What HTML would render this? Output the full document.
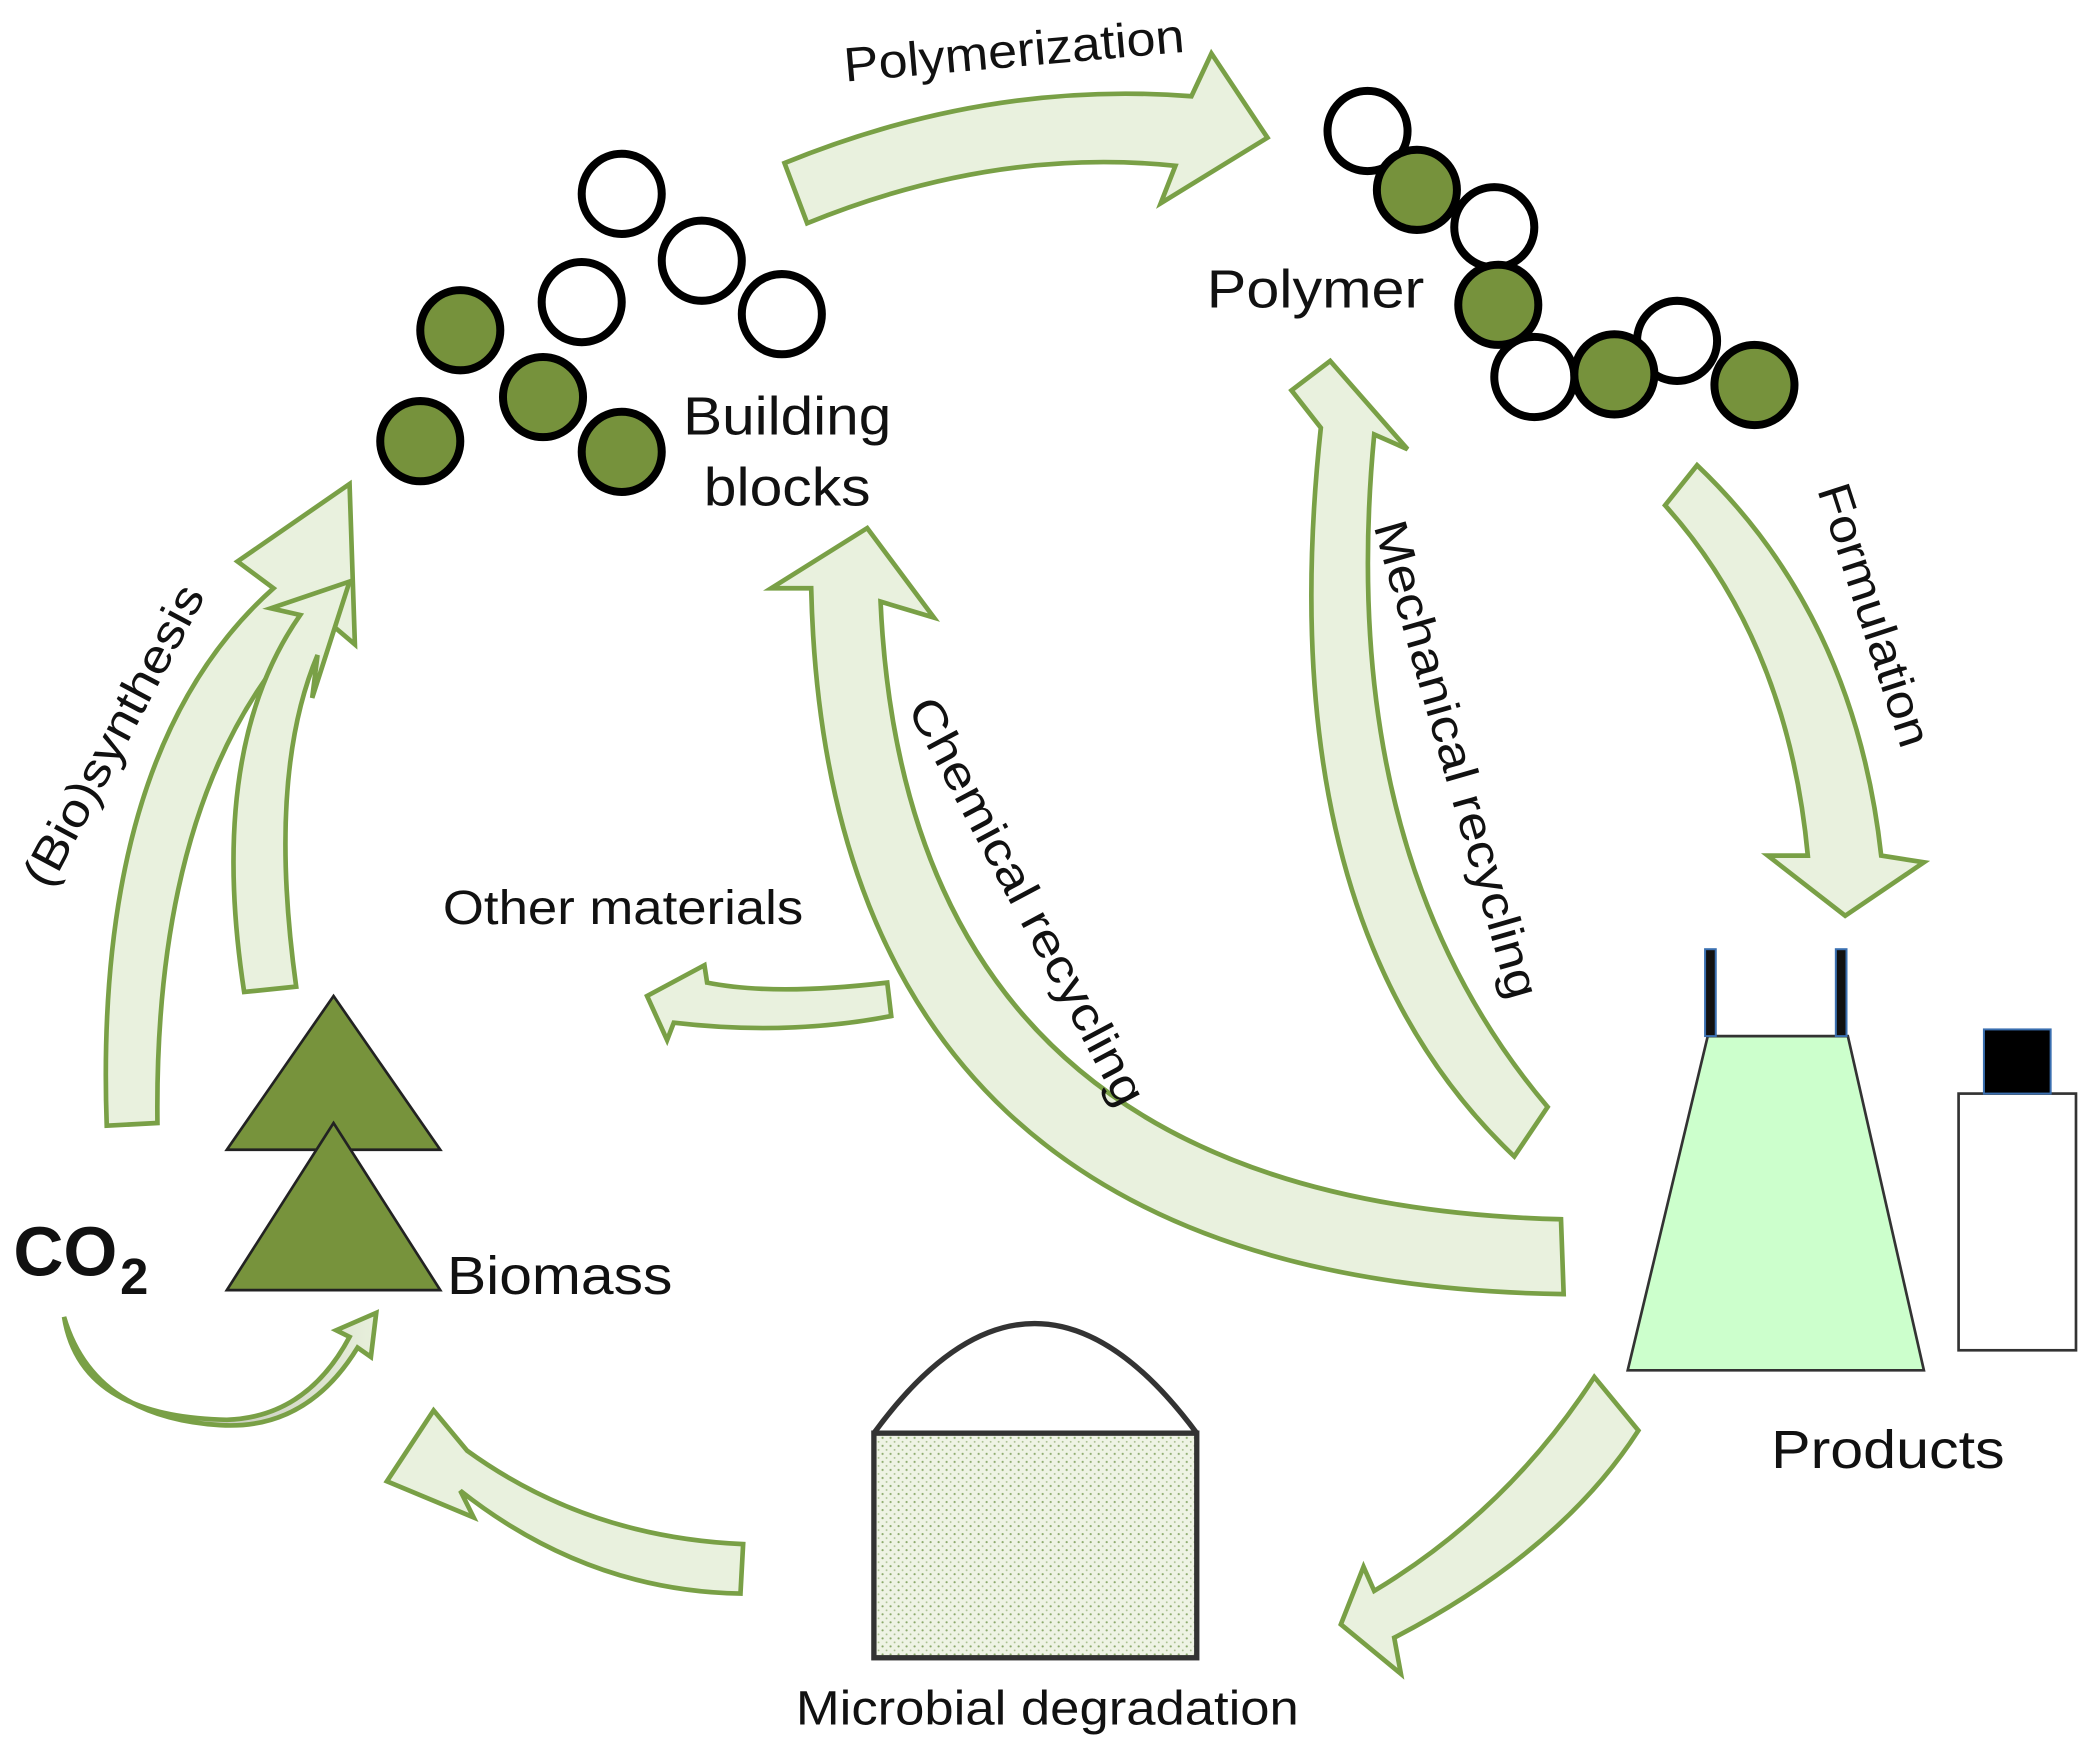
<!DOCTYPE html>
<html><head><meta charset="utf-8"><style>
html,body{margin:0;padding:0;background:#fff;}
svg{display:block;}
text{font-family:"Liberation Sans",sans-serif;fill:#111;}
</style></head><body>
<svg width="2092" height="1746" viewBox="0 0 1568 1306" preserveAspectRatio="none" xmlns="http://www.w3.org/2000/svg">
<defs>
<pattern id="dots" width="6" height="6" patternUnits="userSpaceOnUse">
<rect width="6" height="6" fill="#eef3e4"/>
<circle cx="1.5" cy="1.5" r="0.8" fill="#8aa86a"/>
<circle cx="4.5" cy="4.5" r="0.7" fill="#a9bf8f"/>
</pattern>
<linearGradient id="co2g" x1="0" y1="0" x2="1" y2="0">
<stop offset="0" stop-color="#a8a8a0"/><stop offset="1" stop-color="#e8f0dc"/>
</linearGradient>
</defs>
<g fill="#e9f1de" stroke="#79a046" stroke-width="3.5" stroke-linejoin="miter">
<path d="M588,122 Q740,60 893,72 L908,40 L950,103 L870,152 L881,124 Q745,110 605,167 Z"/>
<path d="M1248,378 L1272,348 Q1390,460 1410,640 L1442,645 L1383,685 L1325,640 L1355,640 Q1340,480 1248,378 Z"/>
<path d="M1135,865 Q950,690 990,320 L968,292 L997,270 L1055,336 L1030,325 Q1000,640 1160,828 Z"/>
<path d="M1172,968 Q620,960 608,440 L578,440 L650,395 L700,462 L660,450 Q680,900 1170,912 Z"/>
<path d="M665,735 Q580,745 530,735 L528,722 L485,745 L500,778 L505,765 Q590,775 668,760 Z"/>
<path d="M80,842 Q70,560 205,440 L178,420 L262,362 L266,482 L240,460 Q115,580 118,840 Z"/>
<path d="M183,742 Q155,560 225,460 L203,455 L262,435 L234,522 L238,490 Q200,580 222,738 Z"/>
<path d="M557,1155 Q440,1150 350,1085 L325,1055 L290,1108 L355,1135 L345,1115 Q440,1190 555,1192 Z"/>
<path d="M1195,1030 Q1130,1130 1030,1190 L1022,1172 L1005,1215 L1050,1252 L1045,1225 Q1170,1160 1228,1070 Z"/>
<path fill="url(#co2g)" d="M48,985 Q60,1060 170,1062 Q230,1060 262,1000 L252,995 L282,982 L278,1015 L268,1008 Q230,1070 165,1066 Q70,1060 48,985 Z"/>
</g>
<g stroke="#000" stroke-width="6">
<circle cx="466" cy="145" r="30" fill="#fff"/>
<circle cx="526" cy="195" r="30" fill="#fff"/>
<circle cx="436" cy="226" r="30" fill="#fff"/>
<circle cx="586" cy="235" r="30" fill="#fff"/>
<circle cx="345" cy="247" r="30" fill="#76923c"/>
<circle cx="407" cy="297" r="30" fill="#76923c"/>
<circle cx="315" cy="330" r="30" fill="#76923c"/>
<circle cx="466" cy="338" r="30" fill="#76923c"/>
<circle cx="1025" cy="98" r="30" fill="#fff"/>
<circle cx="1062" cy="142" r="30" fill="#76923c"/>
<circle cx="1120" cy="170" r="30" fill="#fff"/>
<circle cx="1123" cy="228" r="30" fill="#76923c"/>
<circle cx="1150" cy="282" r="30" fill="#fff"/>
<circle cx="1257" cy="255" r="30" fill="#fff"/>
<circle cx="1210" cy="280" r="30" fill="#76923c"/>
<circle cx="1315" cy="288" r="30" fill="#76923c"/>
</g>
<g fill="#77933c" stroke="#222" stroke-width="2">
<polygon points="250,745 170,860 330,860"/>
<polygon points="250,840 170,965 330,965"/>
</g>
<polygon points="1280,775 1385,775 1442,1025 1220,1025" fill="#ccffcc" stroke="#333" stroke-width="2"/>
<rect x="1278" y="710" width="8" height="65" fill="#111" stroke="#3a6fb0" stroke-width="1.5"/>
<rect x="1376" y="710" width="8" height="65" fill="#111" stroke="#3a6fb0" stroke-width="1.5"/>
<rect x="1468" y="818" width="88" height="192" fill="#fff" stroke="#333" stroke-width="2"/>
<rect x="1487" y="770" width="50" height="48" fill="#000" stroke="#3a6fb0" stroke-width="1.5"/>
<path d="M655,1072 Q775,908 897,1072" fill="none" stroke="#333" stroke-width="4"/>
<rect x="655" y="1072" width="242" height="168" fill="url(#dots)" stroke="#333" stroke-width="4"/>
<text x="760" y="50" font-size="36" text-anchor="middle" textLength="256" lengthAdjust="spacingAndGlyphs" transform="rotate(-5 760 38)">Polymerization</text>
<text x="986" y="230" font-size="40" text-anchor="middle" textLength="163" lengthAdjust="spacingAndGlyphs">Polymer</text>
<text x="590" y="325" font-size="40" text-anchor="middle" textLength="156" lengthAdjust="spacingAndGlyphs">Building</text>
<text x="590" y="378" font-size="40" text-anchor="middle" textLength="125" lengthAdjust="spacingAndGlyphs">blocks</text>
<text x="1405" y="472" font-size="35" text-anchor="middle" textLength="205" lengthAdjust="spacingAndGlyphs" transform="rotate(72 1405 460)">Formulation</text>
<text x="1092" y="580" font-size="35" text-anchor="middle" textLength="370" lengthAdjust="spacingAndGlyphs" transform="rotate(74 1092 568)">Mechanical recycling</text>
<text x="770" y="686" font-size="35" text-anchor="middle" textLength="340" lengthAdjust="spacingAndGlyphs" transform="rotate(62 770 674)">Chemical recycling</text>
<text x="467" y="691" font-size="36" text-anchor="middle" textLength="270" lengthAdjust="spacingAndGlyphs">Other materials</text>
<text x="85" y="562" font-size="35" text-anchor="middle" textLength="250" lengthAdjust="spacingAndGlyphs" transform="rotate(-62 85 550)">(Bio)synthesis</text>
<text x="10" y="954" font-size="52" font-weight="bold" textLength="78" lengthAdjust="spacingAndGlyphs">CO</text>
<text x="90" y="968" font-size="38" font-weight="bold">2</text>
<text x="335" y="968" font-size="40" textLength="169" lengthAdjust="spacingAndGlyphs">Biomass</text>
<text x="1415" y="1098" font-size="40" text-anchor="middle" textLength="175" lengthAdjust="spacingAndGlyphs">Products</text>
<text x="785" y="1290" font-size="36" text-anchor="middle" textLength="377" lengthAdjust="spacingAndGlyphs">Microbial degradation</text>
</svg>
</body></html>
